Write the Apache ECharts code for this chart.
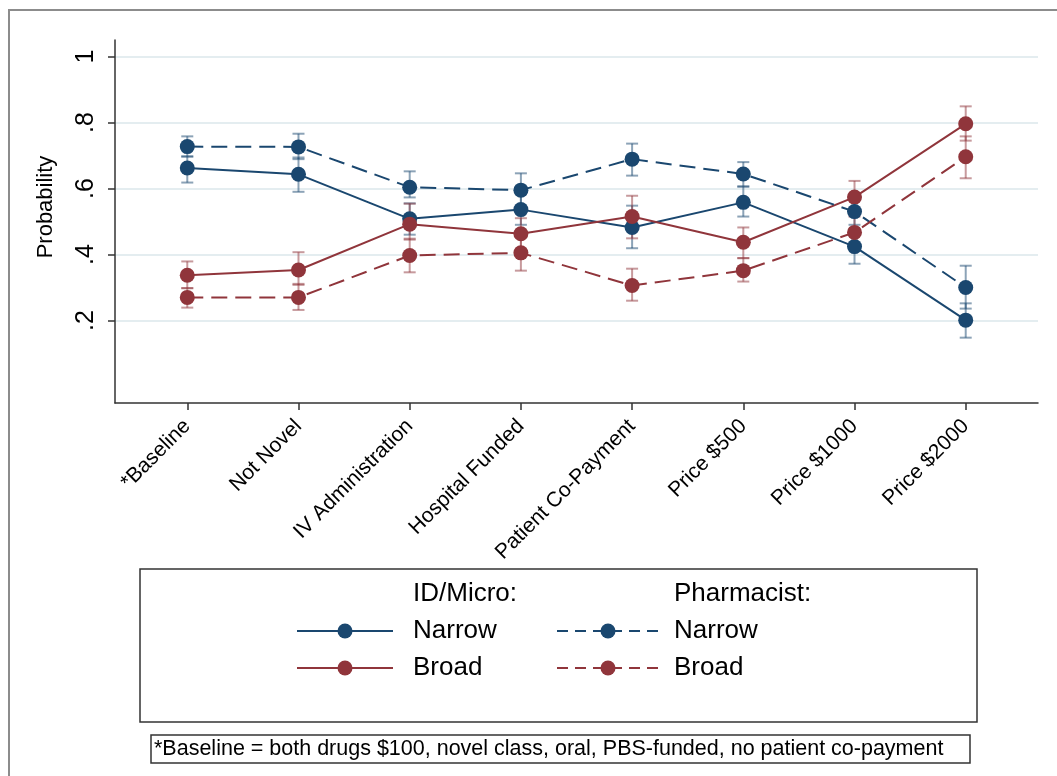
<!DOCTYPE html>
<html>
<head>
<meta charset="utf-8">
<script src="https://cdn.jsdelivr.net/npm/echarts@6/dist/echarts.min.js"></script>
<style>
html, body { margin: 0; padding: 0; background: #fff; }
#chart { width: 1057px; height: 776px; }
</style>
</head>
<body>
<div id="chart"></div>
<script>
// attributes on the x axis
const categories = ['*Baseline', 'Not Novel', 'IV Administration', 'Hospital Funded',
  'Patient Co-Payment', 'Price $500', 'Price $1000', 'Price $2000']
const yTicks = [0.2, 0.4, 0.6, 0.8, 1]

// ID/Micro
const idNarrow = [0.662, 0.643, 0.508, 0.536, 0.482, 0.558, 0.424, 0.201]
const idNarrowLo = [0.618, 0.590, 0.460, 0.490, 0.419, 0.515, 0.372, 0.148]
const idNarrowHi = [0.697, 0.694, 0.555, 0.583, 0.548, 0.606, 0.470, 0.252]
const idBroad = [0.337, 0.353, 0.492, 0.463, 0.515, 0.437, 0.574, 0.796]
const idBroadLo = [0.298, 0.308, 0.445, 0.415, 0.449, 0.389, 0.525, 0.745]
const idBroadHi = [0.379, 0.407, 0.554, 0.510, 0.578, 0.482, 0.623, 0.849]
// Pharmacist
const phNarrow = [0.727, 0.726, 0.604, 0.595, 0.689, 0.644, 0.530, 0.300]
const phNarrowLo = [0.697, 0.689, 0.573, 0.545, 0.639, 0.606, 0.490, 0.236]
const phNarrowHi = [0.758, 0.766, 0.652, 0.646, 0.736, 0.680, 0.574, 0.366]
const phBroad = [0.270, 0.270, 0.397, 0.405, 0.306, 0.351, 0.467, 0.696]
const phBroadLo = [0.239, 0.232, 0.346, 0.351, 0.260, 0.318, 0.421, 0.631]
const phBroadHi = [0.298, 0.311, 0.448, 0.455, 0.357, 0.389, 0.515, 0.758]

const BLUE = '#1a476f'
const RED = '#90353b'
const FONT = '"Liberation Sans", Arial, Helvetica, sans-serif'

function errorBars (name, lo, hi, color) {
  return {
    type: 'custom',
    name: name,
    z: 1,
    silent: true,
    data: lo.map((v, i) => [i, v, hi[i]]),
    encode: { x: 0, y: [1, 2] },
    renderItem: (params, api) => {
      const a = api.coord([api.value(0), api.value(1)])
      const b = api.coord([api.value(0), api.value(2)])
      const w = 6
      const style = { stroke: color, lineWidth: 2 }
      return {
        type: 'group',
        children: [
          { type: 'line', shape: { x1: a[0], y1: a[1], x2: b[0], y2: b[1] }, style: style },
          { type: 'line', shape: { x1: a[0] - w, y1: a[1], x2: a[0] + w, y2: a[1] }, style: style },
          { type: 'line', shape: { x1: b[0] - w, y1: b[1], x2: b[0] + w, y2: b[1] }, style: style }
        ]
      }
    }
  }
}

function lineSeries (name, values, color, dashed) {
  return {
    type: 'line',
    name: name,
    z: 3,
    data: values.map((v, i) => [i, v]),
    symbol: 'circle',
    symbolSize: 15,
    itemStyle: { color: color },
    lineStyle: { color: color, width: 2, type: dashed ? [16, 8] : 'solid' },
    emphasis: { disabled: true }
  }
}

// legend key: line with a dot in the middle
function legendKey (x1, x2, y, color, dashed) {
  return [
    { type: 'line', shape: { x1: x1, y1: y, x2: x2, y2: y },
      style: { stroke: color, lineWidth: 2, lineDash: dashed ? [11, 7] : null } },
    { type: 'circle', shape: { cx: (x1 + x2) / 2, cy: y, r: 7.5 }, style: { fill: color } }
  ]
}

function legendText (x, y, text) {
  return { type: 'text', x: x, y: y,
    style: { text: text, font: '26px ' + FONT, fill: '#000', textAlign: 'left', textVerticalAlign: 'middle' } }
}

const chart = echarts.init(document.getElementById('chart'))
chart.setOption({
  animation: false,
  backgroundColor: '#fff',
  grid: { left: 115, right: 19, top: 40, height: 363 },
  xAxis: {
    type: 'value',
    min: -0.65,
    max: 7.65,
    axisLine: { onZero: false, lineStyle: { color: '#333', width: 1.5 } },
    axisTick: { customValues: categories.map((c, i) => i), length: 7, lineStyle: { color: '#333', width: 1.5 } },
    axisLabel: {
      customValues: categories.map((c, i) => i),
      formatter: v => categories[Math.round(v)],
      rotate: 45,
      margin: 20,
      fontSize: 21,
      fontFamily: FONT,
      color: '#000'
    },
    splitLine: { show: false }
  },
  yAxis: {
    type: 'value',
    min: -0.05,
    max: 1.05,
    axisLine: { show: true, onZero: false, lineStyle: { color: '#333', width: 1.5 } },
    axisTick: { show: true, customValues: yTicks, length: 7, lineStyle: { color: '#333', width: 1.5 } },
    axisLabel: {
      customValues: yTicks,
      formatter: v => (v === 1 ? '1' : String(v).replace('0.', '.')),
      rotate: 90,
      margin: 16,
      fontSize: 25,
      fontFamily: FONT,
      color: '#000'
    },
    splitLine: { show: true, lineStyle: { color: '#e4edf0', width: 2 } }
  },
  series: [
    errorBars('idNarrowCI', idNarrowLo, idNarrowHi, 'rgba(26,71,111,0.5)'),
    errorBars('phNarrowCI', phNarrowLo, phNarrowHi, 'rgba(26,71,111,0.5)'),
    errorBars('idBroadCI', idBroadLo, idBroadHi, 'rgba(144,53,59,0.5)'),
    errorBars('phBroadCI', phBroadLo, phBroadHi, 'rgba(144,53,59,0.5)'),
    lineSeries('ID/Micro Narrow', idNarrow, BLUE, false),
    lineSeries('ID/Micro Broad', idBroad, RED, false),
    lineSeries('Pharmacist Narrow', phNarrow, BLUE, true),
    lineSeries('Pharmacist Broad', phBroad, RED, true)
  ],
  graphic: [
    // outer frame
    { type: 'rect', shape: { x: 9, y: 10, width: 1100, height: 820 },
      style: { fill: null, stroke: '#8c8c8c', lineWidth: 2 }, silent: true },
    // y title
    { type: 'text', x: 46, y: 207, rotation: Math.PI / 2,
      style: { text: 'Probability', font: '22px ' + FONT, fill: '#000', textAlign: 'center', textVerticalAlign: 'middle' } },
    // legend box
    { type: 'rect', shape: { x: 140, y: 569, width: 837, height: 153 },
      style: { fill: null, stroke: '#333', lineWidth: 1.5 } },
    legendText(413, 594, 'ID/Micro:'),
    legendText(674, 594, 'Pharmacist:'),
    ...legendKey(297, 393, 631, BLUE, false),
    legendText(413, 631, 'Narrow'),
    ...legendKey(557, 659, 631, BLUE, true),
    legendText(674, 631, 'Narrow'),
    ...legendKey(297, 393, 668, RED, false),
    legendText(413, 668, 'Broad'),
    ...legendKey(557, 659, 668, RED, true),
    legendText(674, 668, 'Broad'),
    // footnote
    { type: 'rect', shape: { x: 151, y: 735, width: 819, height: 28 },
      style: { fill: null, stroke: '#333', lineWidth: 1.5 } },
    { type: 'text', x: 154, y: 749,
      style: { text: '*Baseline = both drugs $100, novel class, oral, PBS-funded, no patient co-payment',
        font: '21.5px ' + FONT, fill: '#000', textAlign: 'left', textVerticalAlign: 'middle' } }
  ]
})
</script>
</body>
</html>
